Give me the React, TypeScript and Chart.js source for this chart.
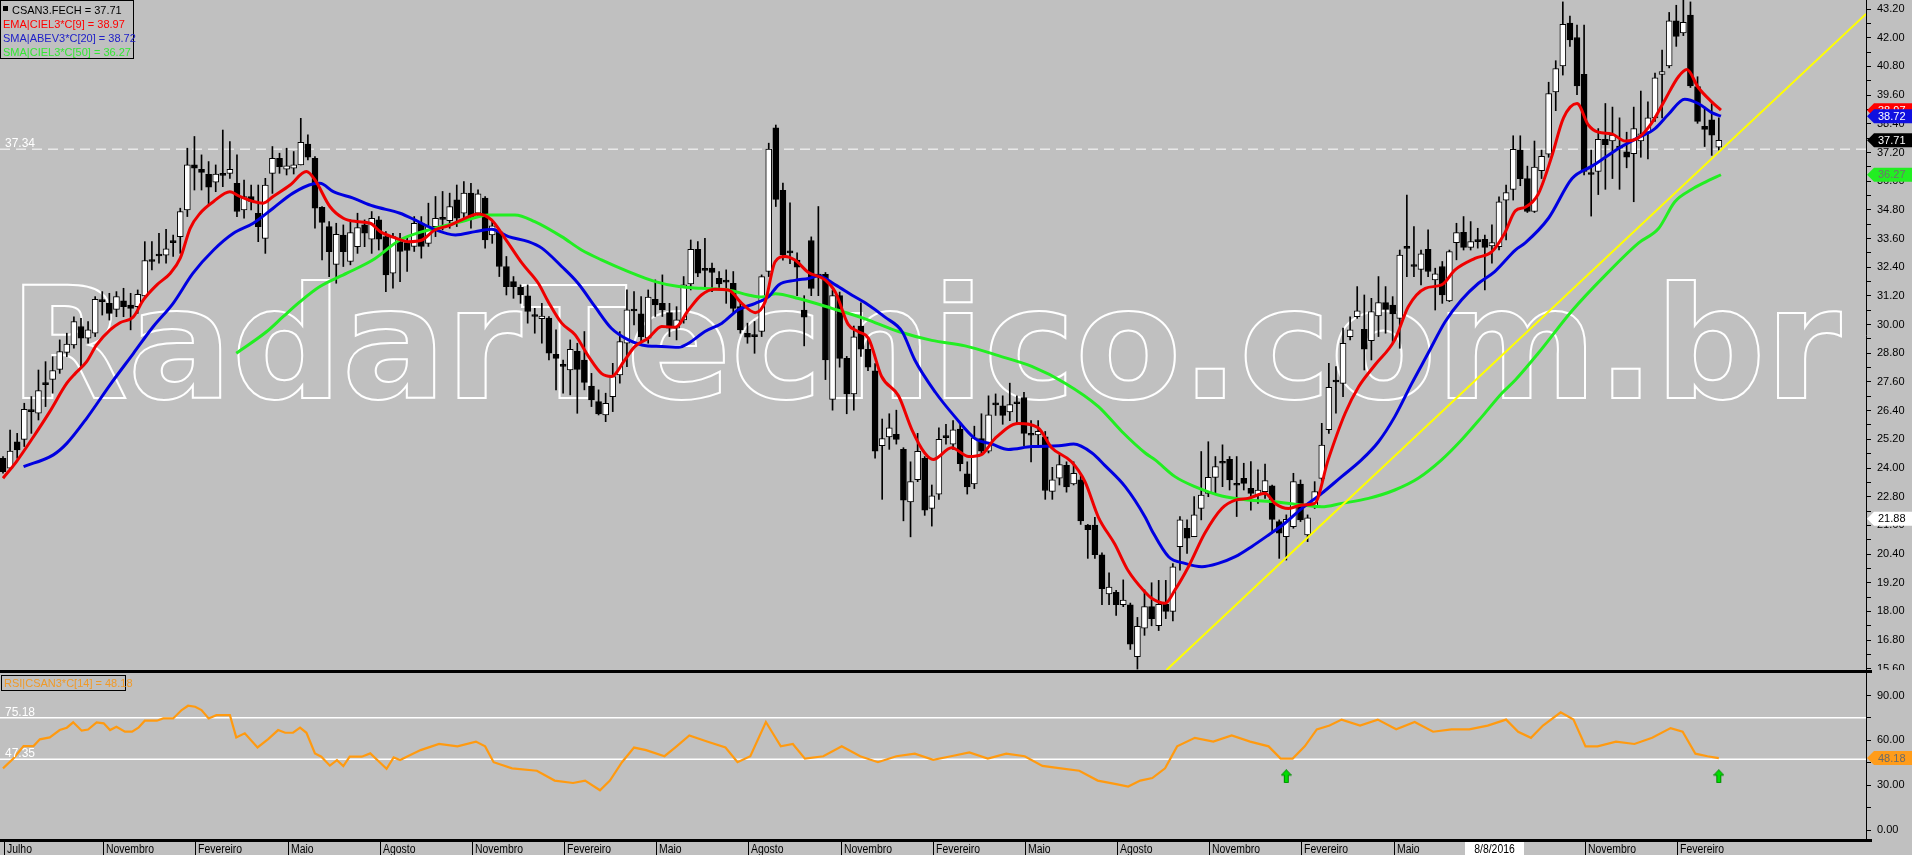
import React, { useEffect, useRef } from 'react';
import { Chart, registerables } from 'chart.js';

Chart.register(...registerables);

const FONT = '"Liberation Sans", Arial, sans-serif';

const OPEN = [24.41,23.99,25.10,25.20,26.40,26.29,27.49,27.71,28.13,28.84,29.15,29.92,29.43,29.64,30.96,30.89,30.64,30.99,30.82,30.75,31.20,32.64,32.87,32.90,33.43,33.68,34.80,36.68,36.50,36.29,35.96,36.24,36.33,35.91,34.80,35.36,34.66,33.61,36.33,36.96,36.50,36.54,36.68,37.55,36.96,34.91,34.10,32.52,33.75,32.64,33.26,34.17,33.57,34.38,33.68,32.15,33.47,33.43,33.27,34.24,33.40,34.10,34.40,34.35,35.22,34.66,35.50,34.66,35.29,33.75,33.89,32.43,31.80,31.56,31.20,30.36,30.25,30.27,28.76,28.27,28.10,28.88,28.52,27.43,26.78,26.22,26.99,27.90,29.22,30.57,30.45,29.43,31.06,30.89,30.50,29.85,30.20,31.70,33.15,32.27,32.36,31.94,31.80,31.73,30.75,29.64,29.50,29.71,32.22,38.23,35.62,33.00,32.70,30.61,33.52,32.03,32.10,26.87,31.21,28.59,27.10,29.94,28.97,28.07,24.93,25.30,25.41,24.78,22.58,23.51,24.41,22.31,22.91,25.27,25.00,25.63,23.76,23.33,25.23,24.70,26.64,26.60,26.35,26.69,26.95,25.37,25.38,25.30,23.02,23.58,24.11,23.33,23.51,21.61,21.61,20.37,18.73,18.80,18.28,18.28,16.11,17.30,18.20,17.40,18.30,18.00,20.71,21.48,21.13,22.31,22.94,23.61,24.22,24.36,23.35,23.57,23.15,22.87,23.01,23.25,21.76,21.13,21.55,23.33,21.20,22.38,23.57,25.60,27.62,27.54,29.50,30.33,29.80,29.33,30.36,30.92,30.82,30.26,33.20,32.44,32.31,33.15,31.87,32.43,30.99,33.43,33.86,33.23,33.54,33.57,33.29,33.26,35.21,35.66,37.30,36.11,34.73,36.44,37.13,39.73,40.82,42.61,42.01,40.47,36.30,36.41,37.75,37.68,37.38,37.23,37.15,37.68,38.05,38.65,40.47,40.82,42.71,42.20,42.95,39.96,38.30,38.57,37.42];
const HIGH = [24.48,25.59,25.45,26.71,26.99,28.10,28.45,28.66,29.36,29.64,30.33,30.26,30.13,31.17,31.38,31.31,31.38,31.52,31.31,31.45,33.47,33.47,33.82,33.99,33.75,34.87,37.38,37.87,37.10,36.82,36.68,38.14,37.66,37.10,36.05,35.84,35.84,36.12,37.45,37.17,37.38,37.24,38.63,37.94,37.03,34.94,34.31,34.24,34.17,34.38,34.66,34.38,34.73,34.52,33.89,33.82,33.82,33.61,34.52,34.52,35.08,35.36,35.57,35.50,35.84,35.98,35.91,35.64,35.36,34.31,33.96,32.85,32.01,31.66,31.66,30.68,30.89,30.34,29.78,28.52,29.36,29.22,29.71,27.96,27.27,27.13,28.38,29.71,31.45,31.38,31.17,31.45,31.87,32.08,30.89,30.75,32.01,33.54,33.47,33.61,32.57,32.22,32.29,32.22,30.89,30.06,30.13,32.08,37.59,38.35,35.92,35.09,33.00,31.21,33.67,34.94,32.18,31.43,31.36,28.67,29.94,30.91,29.41,28.37,26.05,26.27,26.42,24.85,24.26,25.45,24.48,23.29,25.68,25.83,25.98,25.83,24.26,25.75,26.27,27.02,27.10,27.02,27.55,27.02,27.17,25.98,25.98,25.53,24.03,24.56,24.26,24.26,23.73,21.64,21.94,20.45,19.62,18.88,19.32,18.35,17.75,18.90,19.20,19.30,19.30,20.00,21.97,21.83,22.80,24.69,25.10,24.48,24.97,24.48,24.48,24.20,24.27,23.92,24.17,23.29,21.83,22.04,23.78,23.50,22.04,23.43,25.87,28.38,28.24,29.85,30.33,31.59,31.24,31.10,32.01,31.59,31.17,33.12,35.42,34.10,33.12,33.96,32.36,32.64,33.12,34.24,34.52,34.31,34.03,33.75,34.17,35.35,35.84,37.90,37.90,36.63,37.68,37.30,40.14,41.04,43.50,42.91,42.53,42.53,37.30,38.20,39.25,39.10,38.65,38.05,39.10,39.77,39.32,40.52,41.49,43.06,43.36,43.58,43.50,40.37,39.10,39.25,38.65];
const LOW = [23.78,23.92,24.41,24.90,25.45,26.01,26.57,27.13,27.96,28.66,29.01,28.24,29.22,29.50,30.40,30.19,30.33,30.33,29.78,30.47,31.17,32.29,32.57,32.57,32.85,32.98,34.52,35.63,35.63,35.01,35.56,35.77,36.12,34.52,34.45,34.80,33.47,32.98,35.49,36.33,36.26,36.30,36.68,36.89,34.03,32.71,32.01,31.73,32.43,32.50,32.98,33.26,32.98,33.12,31.38,31.52,31.80,32.22,33.06,32.78,33.27,33.68,33.96,34.03,34.10,34.38,34.03,34.52,33.20,33.40,32.01,31.24,31.10,30.89,30.06,29.64,29.22,28.52,27.27,27.13,27.06,26.29,27.27,26.57,26.22,25.94,26.36,27.55,28.24,29.99,29.22,29.22,30.34,30.34,29.50,29.36,30.06,31.45,32.01,31.59,31.38,31.52,30.89,30.48,29.64,29.22,28.80,29.50,32.01,34.94,32.70,32.55,31.21,29.11,31.21,31.21,27.70,26.42,28.22,26.27,26.42,28.67,28.07,24.41,22.69,24.78,25.00,21.79,21.12,23.43,22.02,21.57,22.69,25.00,24.78,23.88,22.91,23.14,24.56,24.63,26.20,25.83,25.98,25.83,24.93,24.26,24.93,22.69,22.69,23.29,22.99,23.29,21.64,20.22,20.22,18.28,18.28,17.83,18.20,16.41,15.59,17.00,17.40,17.20,17.70,17.60,19.73,20.43,21.13,21.83,22.80,22.94,23.22,23.08,21.97,23.08,22.24,22.52,22.73,21.27,20.22,20.15,21.48,21.76,20.92,22.31,23.43,25.45,26.29,26.99,29.36,30.26,28.10,28.52,29.50,29.64,29.22,29.01,32.01,32.01,31.66,32.01,30.61,30.89,30.96,32.71,33.12,33.12,33.20,31.45,32.57,33.12,33.54,35.21,35.81,34.69,34.69,36.11,37.00,38.95,40.44,41.64,39.62,36.26,34.54,35.44,35.66,36.11,35.66,36.56,35.14,37.00,36.93,38.50,38.65,40.74,41.64,42.09,39.92,38.42,37.45,37.08,37.30];
const CLOSE = [23.85,24.71,24.76,26.46,26.36,27.24,27.52,28.08,28.87,29.19,30.13,29.43,29.78,31.06,30.99,30.47,31.17,30.75,30.68,31.27,32.68,32.68,32.90,33.17,33.45,34.73,36.68,36.54,36.37,35.75,36.30,36.26,36.50,34.73,35.36,35.15,34.10,35.84,36.96,36.61,36.64,36.68,37.63,37.00,34.87,34.28,33.05,33.78,33.05,33.85,34.06,33.82,34.45,33.57,32.08,33.68,33.06,33.10,34.24,33.27,34.10,34.45,34.42,34.94,34.45,35.50,34.52,35.47,33.54,34.13,32.43,31.59,31.59,31.24,30.55,30.34,30.36,28.80,28.59,28.25,28.97,28.13,27.58,26.85,26.26,26.71,27.83,29.29,30.62,30.60,29.50,31.15,30.82,30.61,29.85,30.20,31.66,33.15,32.15,32.29,32.18,31.70,31.78,30.68,29.78,29.47,29.52,32.01,37.34,35.24,32.93,33.02,32.40,30.31,31.51,32.05,28.52,31.21,28.59,27.10,29.49,28.97,28.22,24.70,25.23,25.68,25.20,22.66,23.43,24.70,22.24,22.84,25.20,25.29,25.60,24.18,23.21,25.26,24.70,26.23,26.66,26.20,26.65,26.71,25.45,25.39,25.53,23.06,23.51,24.14,23.21,23.78,21.79,21.42,20.37,18.95,19.02,18.28,18.47,16.63,17.38,18.20,17.70,18.30,18.00,19.87,21.83,21.06,22.04,22.87,23.61,24.06,24.20,23.50,23.28,23.36,22.94,23.08,23.47,21.85,21.27,21.85,23.43,21.83,21.92,23.01,24.96,27.38,27.60,29.22,29.78,30.58,28.97,30.54,30.92,30.64,30.45,32.91,33.19,32.43,32.96,32.22,32.12,31.24,33.05,33.85,33.23,33.47,33.47,33.23,33.43,35.14,35.52,37.33,36.11,34.73,36.59,37.04,39.67,40.71,42.56,41.91,39.99,36.41,36.28,37.75,37.53,37.93,37.40,37.00,38.20,37.98,38.65,40.32,40.59,42.71,42.06,42.65,39.99,38.50,38.17,37.93,37.71];

const EMA9_X = [0,1.9,4.3,6.6,9.0,10.2,11.8,13.2,15.1,16.5,18.4,19.8,21.7,23.6,25.0,26.4,27.8,29.7,32.0,33.4,35.3,36.7,38.1,40.5,42.8,44.0,46.1,48.0,49.9,51.8,53.2,55.1,57.2,59.1,60.9,62.8,64.7,67.0,68.9,70.8,73.2,75.5,76.9,78.8,80.7,82.6,84.4,85.8,87.7,89.1,91.0,92.9,94.8,96.7,98.5,100.4,102.3,104.2,106.1,107.5,108.9,110.3,111.7,113.6,115.9,117.4,119.2,120.6,122.1,123.9,126.3,128.2,130.0,131.2,133.8,136.2,138.0,139.9,143.2,146.0,147.9,150.7,152.6,154.5,156.8,158.7,161.1,162.0,163.9,165.3,167.2,169.5,171.9,173.8,175.6,178.0,179.4,181.3,183.2,185.0,186.9,189.3,191.2,193.5,196.3,198.2,200.6,202.9,204.8,207.6,210.0,211.8,213.3,214.7,216.5,218.4,220.1,222.0,223.6,225.0,226.9,228.8,230.7,232.5,234.4,236.3,237.5,239.1,241.0,242.3];
const EMA9_V = [23.57,24.27,25.31,26.36,27.55,27.96,28.45,29.15,29.78,30.08,30.33,31.03,31.66,32.15,32.78,34.03,34.66,35.15,35.56,35.36,35.15,35.08,35.36,35.84,36.40,36.05,34.94,34.45,34.31,34.24,33.89,33.65,33.47,33.54,33.96,34.13,34.38,34.63,34.38,33.61,32.57,31.73,30.96,30.06,29.57,28.66,27.96,27.83,28.52,29.08,29.43,29.92,29.89,30.62,31.24,31.48,31.45,30.89,30.50,30.96,32.63,32.85,32.70,32.18,31.88,31.36,30.01,29.71,29.41,27.84,27.02,25.60,24.63,24.36,24.85,24.48,24.56,25.23,25.86,25.68,24.85,24.26,23.43,21.94,20.82,19.70,18.80,18.55,18.34,18.90,19.87,21.27,22.31,22.66,22.73,22.94,22.52,22.31,22.45,22.52,24.34,26.29,27.40,28.31,29.36,30.75,31.52,31.66,32.29,32.77,33.05,33.82,34.76,34.91,35.44,37.00,38.65,39.25,38.35,38.05,37.98,37.68,37.83,38.42,39.40,40.37,40.67,39.92,39.32,38.97];

const SMA20_X = [2.9,7.1,9.0,11.8,15.1,18.4,21.2,24.0,26.8,29.7,32.5,35.3,38.1,40.9,43.8,44.7,46.6,49.4,52.2,56.0,58.1,60.5,63.8,66.6,68.9,71.3,74.1,76.0,78.8,81.1,83.5,85.8,88.2,90.1,92.9,95.3,96.7,99.0,101.4,103.7,106.1,108.0,109.4,111.7,113.6,115.0,117.4,119.7,121.6,124.4,126.8,128.6,131.5,134.3,137.1,139.5,141.8,145.1,148.9,151.0,153.6,155.4,158.3,161.1,162.0,164.4,166.7,169.1,171.4,173.8,176.1,178.5,180.8,183.2,186.0,188.8,191.6,194.0,196.3,198.7,201.0,203.4,205.7,208.1,210.4,213.3,214.7,218.0,221.3,224.1,226.0,228.3,230.7,233.0,234.9,237.2,239.1,241.0,242.3];
const SMA20_V = [24.06,24.55,25.03,26.08,27.48,28.80,29.92,30.89,32.15,33.12,33.82,34.24,34.87,35.50,35.89,35.91,35.56,35.29,34.96,34.66,34.38,34.03,33.75,33.89,33.99,33.68,33.47,33.20,32.43,31.73,30.75,29.85,29.36,29.15,29.08,29.05,29.22,29.71,30.06,30.62,30.89,31.17,31.66,31.85,31.93,32.03,31.66,31.24,30.91,30.31,29.71,28.52,27.17,26.13,25.23,25.00,24.78,24.90,24.93,25.00,24.63,24.11,23.21,21.94,21.41,20.29,20.01,19.87,20.01,20.29,20.71,21.20,21.69,22.31,22.94,23.64,24.34,25.10,26.15,27.54,28.80,30.12,31.03,31.73,32.22,33.12,33.42,34.46,36.11,36.63,37.00,37.45,37.83,38.20,38.80,39.43,39.25,38.87,38.72];

const SMA50_X = [32.9,37.2,39.5,41.9,44.7,48.5,52.2,56.0,60.0,64.7,68.5,72.2,75.0,78.8,81.6,84.4,88.2,92.0,95.3,98.5,102.3,105.1,107.0,108.9,112.2,116.9,121.6,126.3,131.0,135.7,140.4,145.1,149.8,154.5,157.8,161.1,162.5,165.3,168.1,171.9,175.6,179.4,183.2,186.0,188.8,192.6,196.3,199.6,202.9,205.7,208.6,211.4,213.3,216.5,221.3,226.0,230.7,233.5,235.8,238.2,240.1,242.3];
const SMA50_V = [28.80,29.71,30.33,30.96,31.59,32.15,32.71,33.54,33.96,34.31,34.59,34.59,34.31,33.68,33.12,32.71,32.22,31.80,31.59,31.52,31.45,31.24,31.15,31.29,31.09,30.68,30.24,29.71,29.34,29.11,28.70,28.25,27.55,26.57,25.53,24.63,24.34,23.64,23.22,22.83,22.66,22.59,22.45,22.38,22.52,22.73,23.08,23.57,24.34,25.17,26.15,27.13,27.68,28.79,30.58,32.07,33.42,34.02,35.14,35.66,35.96,36.27];

const TREND_X = [164.1, 262.76];
const TREND_V = [15.55, 43.0];

const RSI_X = [0,1.5,2.9,4.3,5.2,6.6,8.0,9.0,9.9,11.1,12.0,13.2,14.2,15.1,16.0,17.2,18.2,19.1,20.0,21.7,22.6,24.0,25.2,26.1,27.1,28.0,29.0,30.1,32.0,32.9,34.1,35.9,37.4,38.8,39.8,40.9,41.9,42.8,44.0,44.9,46.1,47.1,48.0,48.9,50.6,51.8,52.9,54.1,55.1,56.0,58.9,61.5,64.1,66.7,68.0,69.2,71.8,75.3,77.8,80.4,82.1,84.2,85.6,87.3,89.0,90.7,93.3,95.0,96.8,99.3,101.9,103.6,105.4,107.6,109.7,111.4,113.1,115.7,118.3,120.9,123.4,126.0,128.6,131.2,133.7,136.3,138.9,141.5,144.1,146.6,149.2,151.8,154.4,157.0,158.7,160.4,162.1,163.9,165.6,168.1,170.7,173.3,175.9,178.5,180.2,181.9,183.6,185.3,187.1,188.8,191.4,193.9,196.5,199.1,201.7,204.3,206.8,209.4,212.0,213.7,215.5,217.2,219.7,221.5,223.2,224.9,227.5,230.1,232.6,235.2,236.9,238.7,240.4,242.0];
const RSI_V = [41.3,48.0,56.2,56.2,60.7,62.0,66.9,68.5,72.1,66.5,67.3,72.1,71.4,66.9,69.1,65.8,65.8,68.5,73.2,73.2,74.7,74.7,80.3,83.2,82.5,80.3,74.7,76.9,76.9,62.0,64.7,55.3,60.9,66.9,65.1,65.1,68.5,65.1,51.3,49.1,43.1,46.8,42.8,49.1,49.1,51.3,46.4,41.0,48.6,46.8,53.5,57.6,56.0,59.2,56.0,45.4,41.3,39.7,33.1,31.5,33.1,26.6,33.1,45.4,55.2,53.5,49.4,56.0,63.3,59.2,55.2,45.4,49.4,72.3,56.0,57.6,47.8,49.4,56.0,49.4,45.4,49.4,51.1,47.0,49.4,51.9,47.8,51.1,49.4,42.9,41.3,39.7,33.1,30.7,29.1,33.1,34.8,41.3,56.0,61.7,59.2,63.3,59.2,56.0,47.8,47.8,56.0,67.4,69.9,73.9,69.9,73.9,67.4,72.3,65.8,67.4,67.4,69.9,73.9,65.8,61.7,69.9,78.8,73.9,56.0,56.0,59.2,57.6,61.7,68.2,65.8,51.1,49.4,48.18];

const PRICE_REF = 37.34;
const RSI_LEVELS = [75.18, 47.35];
const ARROW_X = [181, 242];
const ARROW_V = [36, 36];

const PRICE_MAJOR = [15.6,16.8,18.0,19.2,20.4,21.6,22.8,24.0,25.2,26.4,27.6,28.8,30.0,31.2,32.4,33.6,34.8,36.0,37.2,38.4,39.6,40.8,42.0,43.2];
const RSI_MAJOR = [0, 30, 60, 90];

const MONTH_LABELS = ['Julho','Novembro','Fevereiro','Maio','Agosto','Novembro','Fevereiro','Maio','Agosto','Novembro','Fevereiro','Maio','Agosto','Novembro','Fevereiro','Maio','Novembro','Fevereiro'];
const MONTH_POS = [0,14,27,40,53,66,79,92,105,118,131,144,157,170,183,196,223,236];
const DATE_MARK = '8/8/2016';
const DATE_MARK_POS = 209;

const LEGEND_LINES: [string, string][] = [
  ['CSAN3.FECH = 37.71', '#000000'],
  ['EMA|CIEL3*C[9] = 38.97', '#ff0000'],
  ['SMA|ABEV3*C[20] = 38.72', '#2020c8'],
  ['SMA|CIEL3*C[50] = 36.27', '#33e833'],
];
const RSI_LEGEND = 'RSI|CSAN3*C[14] = 48.18';

const BADGES: [number, string, string][] = [
  [38.97, '#ff0000', '#ffffff'],
  [38.72, '#1010e0', '#ffffff'],
  [37.71, '#000000', '#ffffff'],
  [36.27, '#22ee22', '#707070'],
  [21.88, '#ffffff', '#000000'],
];
const RSI_BADGE = 48.18;

const X_MIN = -0.423;
const X_MAX = 262.76;

function pts(xs: number[], vs: number[]) {
  return xs.map((x, k) => ({ x, y: vs[k] }));
}

function drawBadge(ctx: CanvasRenderingContext2D, y: number, fill: string, color: string, text: string) {
  const x0 = 1867;
  const h = 14;
  ctx.beginPath();
  ctx.moveTo(x0, y);
  ctx.lineTo(x0 + 7, y - h / 2);
  ctx.lineTo(1912, y - h / 2);
  ctx.lineTo(1912, y + h / 2);
  ctx.lineTo(x0 + 7, y + h / 2);
  ctx.closePath();
  ctx.fillStyle = fill;
  ctx.fill();
  ctx.fillStyle = color;
  ctx.font = '11px ' + FONT;
  ctx.textAlign = 'left';
  ctx.textBaseline = 'middle';
  ctx.fillText(text, 1878, y + 0.5);
}

function makeArrow() {
  const c = document.createElement('canvas');
  c.width = 11;
  c.height = 14;
  const g = c.getContext('2d')!;
  g.fillStyle = '#00dd00';
  g.strokeStyle = '#008800';
  g.lineWidth = 1;
  g.beginPath();
  g.moveTo(5.5, 0.5);
  g.lineTo(10.5, 6);
  g.lineTo(7.5, 6);
  g.lineTo(7.5, 13.5);
  g.lineTo(3.5, 13.5);
  g.lineTo(3.5, 6);
  g.lineTo(0.5, 6);
  g.closePath();
  g.fill();
  g.stroke();
  return c;
}

function yAxis(min: number, max: number, majors: number[]) {
  return {
    type: 'linear',
    position: 'right',
    min,
    max,
    afterBuildTicks: (s: any) => {
      const t: any[] = [];
      majors.forEach((v, k) => {
        t.push({ value: v });
        if (k < majors.length - 1) t.push({ value: (v + majors[k + 1]) / 2 });
      });
      s.ticks = t;
    },
    afterFit: (s: any) => {
      s.width = 46;
      s.paddingTop = 0;
      s.paddingBottom = 0;
      s.paddingLeft = 0;
      s.paddingRight = 0;
    },
    ticks: {
      autoSkip: false,
      color: '#000000',
      padding: 6,
      font: { family: FONT, size: 11 },
      callback: (v: any, i: number) => (i % 2 === 0 ? Number(v).toFixed(2) : ''),
    },
    grid: { drawOnChartArea: false, drawTicks: true, tickLength: 5, color: '#000000' },
    border: { display: true, color: '#000000', width: 1 },
  };
}

export default function App() {
  const mainRef = useRef<HTMLCanvasElement>(null);
  const rsiRef = useRef<HTMLCanvasElement>(null);

  useEffect(() => {
    document.body.style.margin = '0';
    document.body.style.background = '#c0c0c0';
    const idx = OPEN.map((_, i) => i);

    const watermark = {
      id: 'watermark',
      beforeDatasetsDraw(chart: any) {
        const ctx = chart.ctx as CanvasRenderingContext2D;
        ctx.save();
        const text = 'RadarTecnico.com.br';
        const chars = text.split('');
        ctx.font = 'bold 155px "DejaVu Sans", sans-serif';
        ctx.textAlign = 'left';
        ctx.textBaseline = 'alphabetic';
        const adv = chars.map((c) => ctx.measureText(c).width);
        const m0 = ctx.measureText(chars[0]);
        const mL = ctx.measureText(chars[chars.length - 1]);
        let sumAdv = 0;
        for (let k = 0; k < chars.length - 1; k++) sumAdv += adv[k];
        const firstInkOff = -m0.actualBoundingBoxLeft;
        const natural = sumAdv + mL.actualBoundingBoxRight - firstInkOff;
        const startX = 23;
        const endX = 1841;
        const sp = (endX - startX - natural) / (chars.length - 1);
        let x = startX - firstInkOff;
        ctx.strokeStyle = '#ffffff';
        ctx.lineWidth = 2;
        chars.forEach((c, k) => {
          ctx.strokeText(c, x, 398);
          x += adv[k] + sp;
        });
        ctx.restore();
      },
    };

    const mainOverlay = {
      id: 'mainOverlay',
      afterDraw(chart: any) {
        const ctx = chart.ctx as CanvasRenderingContext2D;
        const ys = chart.scales.y;
        ctx.save();
        ctx.font = '12px ' + FONT;
        ctx.fillStyle = '#ffffff';
        ctx.textAlign = 'left';
        ctx.textBaseline = 'alphabetic';
        ctx.fillText(PRICE_REF.toFixed(2), 5, ys.getPixelForValue(PRICE_REF) - 2);
        ctx.strokeStyle = '#000';
        ctx.lineWidth = 1;
        ctx.strokeRect(0.5, 0.5, 133, 58);
        ctx.font = '11px ' + FONT;
        LEGEND_LINES.forEach(([t, c], k) => {
          ctx.fillStyle = c;
          const by = 14 + k * 14;
          if (k === 0) {
            ctx.fillRect(3, 6, 5, 5);
            ctx.fillText(t, 12, by);
          } else {
            ctx.fillText(t, 3, by);
          }
        });
        BADGES.forEach(([v, f, c]) => drawBadge(ctx, ys.getPixelForValue(v), f, c, v.toFixed(2)));
        ctx.restore();
      },
    };

    const mainChart = new Chart(mainRef.current!, {
      type: 'bar',
      data: {
        datasets: [
          {
            type: 'line',
            data: [{ x: X_MIN, y: PRICE_REF }, { x: X_MAX, y: PRICE_REF }],
            borderColor: '#ffffff',
            borderWidth: 1,
            borderDash: [10, 6],
            pointRadius: 0,
            order: 10,
          } as any,
          {
            type: 'bar',
            data: idx.map((i) => ({ x: i, y: [LOW[i], HIGH[i]] })),
            backgroundColor: '#000000',
            barThickness: 1,
            grouped: false,
            order: 6,
          } as any,
          {
            type: 'bar',
            data: idx.map((i) => ({ x: i, y: [OPEN[i], CLOSE[i]] })),
            backgroundColor: idx.map((i) => (CLOSE[i] - OPEN[i] > 0.08 ? '#ffffff' : '#000000')),
            borderColor: '#000000',
            borderWidth: 1,
            borderSkipped: false,
            barThickness: 6,
            minBarLength: 2,
            grouped: false,
            order: 5,
          } as any,
          {
            type: 'line',
            data: pts(SMA50_X, SMA50_V),
            borderColor: '#22ee22',
            borderWidth: 3,
            pointRadius: 0,
            cubicInterpolationMode: 'monotone',
            order: 4,
          } as any,
          {
            type: 'line',
            data: pts(SMA20_X, SMA20_V),
            borderColor: '#0000e0',
            borderWidth: 3,
            pointRadius: 0,
            cubicInterpolationMode: 'monotone',
            order: 3,
          } as any,
          {
            type: 'line',
            data: pts(EMA9_X, EMA9_V),
            borderColor: '#ee0000',
            borderWidth: 3,
            pointRadius: 0,
            cubicInterpolationMode: 'monotone',
            order: 2,
          } as any,
          {
            type: 'line',
            data: pts(TREND_X, TREND_V),
            borderColor: '#ffff00',
            borderWidth: 2,
            pointRadius: 0,
            order: 1,
          } as any,
        ],
      },
      options: {
        responsive: false,
        animation: false,
        events: [],
        layout: { padding: 0, autoPadding: false },
        plugins: { legend: { display: false }, tooltip: { enabled: false } },
        scales: {
          x: { type: 'linear', min: X_MIN, max: X_MAX, offset: false, display: false },
          y: yAxis(15.55, 43.58, PRICE_MAJOR),
        },
      } as any,
      plugins: [watermark, mainOverlay],
    });

    const arrow = makeArrow();

    const rsiOverlay = {
      id: 'rsiOverlay',
      afterDraw(chart: any) {
        const ctx = chart.ctx as CanvasRenderingContext2D;
        const ys = chart.scales.y;
        const xs = chart.scales.x;
        ctx.save();
        ctx.fillStyle = '#000';
        ctx.fillRect(0, 0, 1872, 3);
        ctx.fillRect(0, 169, 1872, 3);
        ctx.font = '12px ' + FONT;
        ctx.fillStyle = '#ffffff';
        ctx.textAlign = 'left';
        ctx.textBaseline = 'alphabetic';
        RSI_LEVELS.forEach((v) => ctx.fillText(v.toFixed(2), 5, ys.getPixelForValue(v) - 2));
        ctx.strokeStyle = '#000';
        ctx.lineWidth = 1;
        ctx.strokeRect(1.5, 5.5, 124, 15);
        ctx.font = '11px ' + FONT;
        ctx.fillStyle = '#f09a28';
        ctx.fillText(RSI_LEGEND, 4, 17);
        ctx.font = '12px ' + FONT;
        ctx.fillStyle = '#000';
        MONTH_LABELS.forEach((t, k) => {
          const px = Math.round(xs.getPixelForValue(MONTH_POS[k])) + 1;
          ctx.fillRect(px, 172, 1, 13);
          const w = ctx.measureText(t).width;
          ctx.fillText(t, px + 3, 183, w * 0.87);
        });
        const dx = xs.getPixelForValue(DATE_MARK_POS);
        ctx.fillStyle = '#ffffff';
        ctx.fillRect(Math.round(dx) - 20, 172, 59, 13);
        ctx.fillStyle = '#000';
        ctx.textAlign = 'center';
        const w2 = ctx.measureText(DATE_MARK).width;
        ctx.fillText(DATE_MARK, Math.round(dx) + 9.5, 183, w2 * 0.87);
        drawBadge(ctx, ys.getPixelForValue(RSI_BADGE), '#ff9c1a', '#6a6a6a', RSI_BADGE.toFixed(2));
        ctx.restore();
      },
    };

    const rsiChart = new Chart(rsiRef.current!, {
      type: 'line',
      data: {
        datasets: [
          {
            data: [{ x: X_MIN, y: RSI_LEVELS[0] }, { x: X_MAX, y: RSI_LEVELS[0] }],
            borderColor: '#ffffff',
            borderWidth: 1.5,
            pointRadius: 0,
            order: 5,
          },
          {
            data: [{ x: X_MIN, y: RSI_LEVELS[1] }, { x: X_MAX, y: RSI_LEVELS[1] }],
            borderColor: '#ffffff',
            borderWidth: 1.5,
            pointRadius: 0,
            order: 4,
          },
          {
            data: pts(RSI_X, RSI_V),
            borderColor: '#ff9a10',
            borderWidth: 2.2,
            pointRadius: 0,
            order: 2,
          },
          {
            data: pts(ARROW_X, ARROW_V),
            showLine: false,
            pointStyle: arrow,
            pointRadius: 7,
            order: 1,
          },
        ] as any,
      },
      options: {
        responsive: false,
        animation: false,
        events: [],
        layout: { padding: { top: 3, bottom: 16, left: 0, right: 0 }, autoPadding: false },
        plugins: { legend: { display: false }, tooltip: { enabled: false } },
        scales: {
          x: { type: 'linear', min: X_MIN, max: X_MAX, offset: false, display: false },
          y: yAxis(-6.0, 105.1, RSI_MAJOR),
        },
      } as any,
      plugins: [rsiOverlay],
    });

    return () => {
      mainChart.destroy();
      rsiChart.destroy();
    };
  }, []);

  return (
    <div style={{ position: 'absolute', left: 0, top: 0, width: 1912, height: 855, background: '#c0c0c0', overflow: 'hidden' }}>
      <canvas ref={mainRef} width={1912} height={670} style={{ position: 'absolute', left: 0, top: 0, width: 1912, height: 670 }} />
      <canvas ref={rsiRef} width={1912} height={185} style={{ position: 'absolute', left: 0, top: 670, width: 1912, height: 185 }} />
    </div>
  );
}
